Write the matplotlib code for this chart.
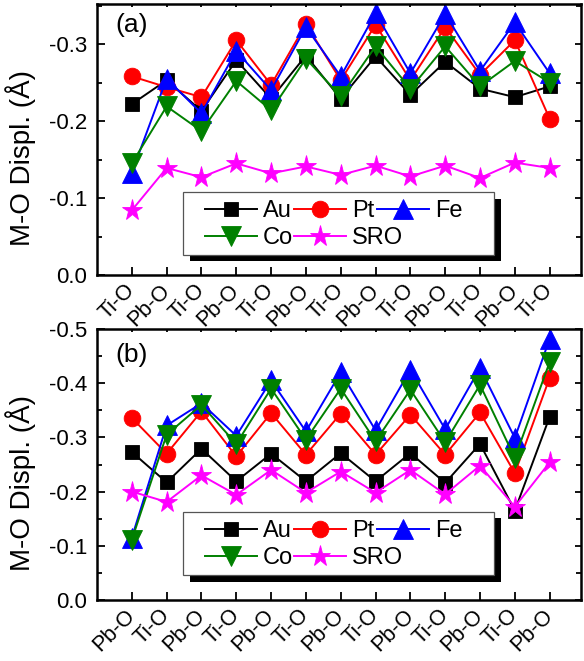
import numpy as np
import matplotlib
matplotlib.use("Agg")
import matplotlib.pyplot as plt
import matplotlib.transforms as mtransforms
from matplotlib.patches import Rectangle
from matplotlib.ticker import MultipleLocator, FuncFormatter

plt.rcParams["font.family"] = ["Liberation Sans", "DejaVu Sans"]
plt.rcParams["axes.unicode_minus"] = False

# ── data (M-O displacement magnitude, Å; plotted as negative) ──
labels_a = ["Ti-O", "Pb-O"] * 6 + ["Ti-O"]
au_a = [0.222, 0.253, 0.213, 0.279, 0.229, 0.285, 0.229, 0.284, 0.234, 0.277, 0.242, 0.231, 0.245]
pt_a = [0.258, 0.244, 0.231, 0.305, 0.247, 0.326, 0.253, 0.325, 0.253, 0.322, 0.260, 0.305, 0.203]
fe_a = [0.133, 0.255, 0.210, 0.291, 0.240, 0.322, 0.258, 0.340, 0.262, 0.339, 0.265, 0.328, 0.262]
co_a = [0.145, 0.219, 0.187, 0.252, 0.214, 0.281, 0.232, 0.297, 0.242, 0.297, 0.245, 0.278, 0.250]
sro_a = [0.084, 0.139, 0.127, 0.145, 0.132, 0.141, 0.130, 0.142, 0.128, 0.142, 0.126, 0.146, 0.139]

labels_b = ["Pb-O", "Ti-O"] * 6 + ["Pb-O"]
au_b = [0.273, 0.217, 0.279, 0.219, 0.270, 0.219, 0.271, 0.219, 0.271, 0.216, 0.288, 0.165, 0.338]
pt_b = [0.336, 0.270, 0.348, 0.265, 0.345, 0.268, 0.344, 0.268, 0.342, 0.268, 0.346, 0.234, 0.410]
fe_b = [0.115, 0.322, 0.363, 0.303, 0.405, 0.311, 0.420, 0.313, 0.425, 0.315, 0.428, 0.299, 0.482]
co_b = [0.111, 0.305, 0.360, 0.288, 0.390, 0.296, 0.390, 0.293, 0.388, 0.291, 0.397, 0.262, 0.439]
sro_b = [0.200, 0.181, 0.230, 0.194, 0.240, 0.198, 0.237, 0.198, 0.240, 0.195, 0.248, 0.172, 0.254]

NAMES = ["Au", "Pt", "Fe", "Co", "SRO"]
# marker, colour, marker size (pt)
STYLE = {
    "Au": ("s", "black", 10.5),
    "Pt": ("o", "#ff0000", 12),
    "Fe": ("^", "#0000ff", 14),
    "Co": ("v", "#008000", 14),
    "SRO": ("*", "#ff00ff", 15.5),
}

W, H = 584, 661
fig = plt.figure(figsize=(W / 100, H / 100), dpi=100)


def px_axes(left, top, right, bottom):
    return fig.add_axes([left / W, 1 - bottom / H, (right - left) / W, (bottom - top) / H])


def draw_panel(ax, labels, data, ymax, tag, tag_y, box_top, box_bot):
    x = np.arange(1, len(labels) + 1)
    lines = {}
    for name, vals in zip(NAMES, data):
        mk, col, ms = STYLE[name]
        lines[name], = ax.plot(x, -np.array(vals), marker=mk, color=col, ms=ms,
                               mec=col, mew=0.6, lw=1.4, label=name)

    ax.set_xlim(0, 13.9)
    ax.set_ylim(0, -ymax)
    ax.yaxis.set_major_locator(MultipleLocator(0.1))
    ax.yaxis.set_minor_locator(MultipleLocator(0.05))
    ax.yaxis.set_major_formatter(FuncFormatter(lambda v, p: "0.0" if abs(v) < 1e-9 else f"{v:.1f}"))
    ax.set_xticks(x)
    ax.set_xticklabels(labels, rotation=45, ha="right", va="center", rotation_mode="anchor")
    shift = mtransforms.ScaledTranslation(4 / 100, 0, fig.dpi_scale_trans)
    for lab in ax.get_xticklabels():
        lab.set_transform(lab.get_transform() + shift)

    ax.tick_params(which="both", direction="in", top=True, right=True, width=1.3)
    ax.tick_params(which="major", length=6)
    ax.tick_params(which="minor", length=3.6)
    ax.tick_params(axis="x", pad=9, labelsize=15.5)
    ax.tick_params(axis="y", pad=7, labelsize=16)
    for t in ax.xaxis.get_major_ticks():
        t.tick2line.set_markersize(2.2)
    for t in ax.yaxis.get_major_ticks():
        t.tick2line.set_markersize(4)
    for s in ax.spines.values():
        s.set_linewidth(1.8)

    ax.text(0.037, tag_y, tag, transform=ax.transAxes, fontsize=19, ha="left", va="top")
    ax.text(-0.157, 0.43, "M-O Displ. (Å)", transform=ax.transAxes, fontsize=20,
            rotation=90, ha="center", va="center")

    # legend: two rows in one framed box with a solid shadow
    bx0, bx1 = 0.178, 0.821
    dx, dy = 6.5 / 484, 6.5 / 271
    ax.add_patch(Rectangle((bx0 + dx, box_bot - dy), bx1 - bx0, box_top - box_bot,
                           transform=ax.transAxes, facecolor="black", edgecolor="none",
                           zorder=4, clip_on=False))
    ax.add_patch(Rectangle((bx0, box_bot), bx1 - bx0, box_top - box_bot,
                           transform=ax.transAxes, facecolor="white", edgecolor="#555555",
                           lw=0.9, zorder=4.5, clip_on=False))
    h = box_top - box_bot
    opts = dict(frameon=False, loc="center left", borderpad=0, borderaxespad=0,
                fontsize=17, handlelength=2.2, handletextpad=0.25, numpoints=1)
    row1 = ax.legend([lines[n] for n in ["Au", "Pt", "Fe"]], ["Au", "Pt", "Fe"], ncol=3,
                     columnspacing=0.12, bbox_to_anchor=(0.223, box_top - 0.30 * h), **opts)
    ax.add_artist(row1)
    ax.legend([lines[n] for n in ["Co", "SRO"]], ["Co", "SRO"], ncol=2,
              columnspacing=0.06, bbox_to_anchor=(0.223, box_top - 0.735 * h), **opts)


ax_a = px_axes(97, 4, 581, 275)
draw_panel(ax_a, labels_a, [au_a, pt_a, fe_a, co_a, sro_a], 0.352, "(a)", 0.967, 0.306, 0.074)

ax_b = px_axes(97, 329, 581, 600)
draw_panel(ax_b, labels_b, [au_b, pt_b, fe_b, co_b, sro_b], 0.5, "(b)", 0.948, 0.325, 0.092)

fig.savefig("out.png", dpi=100)
